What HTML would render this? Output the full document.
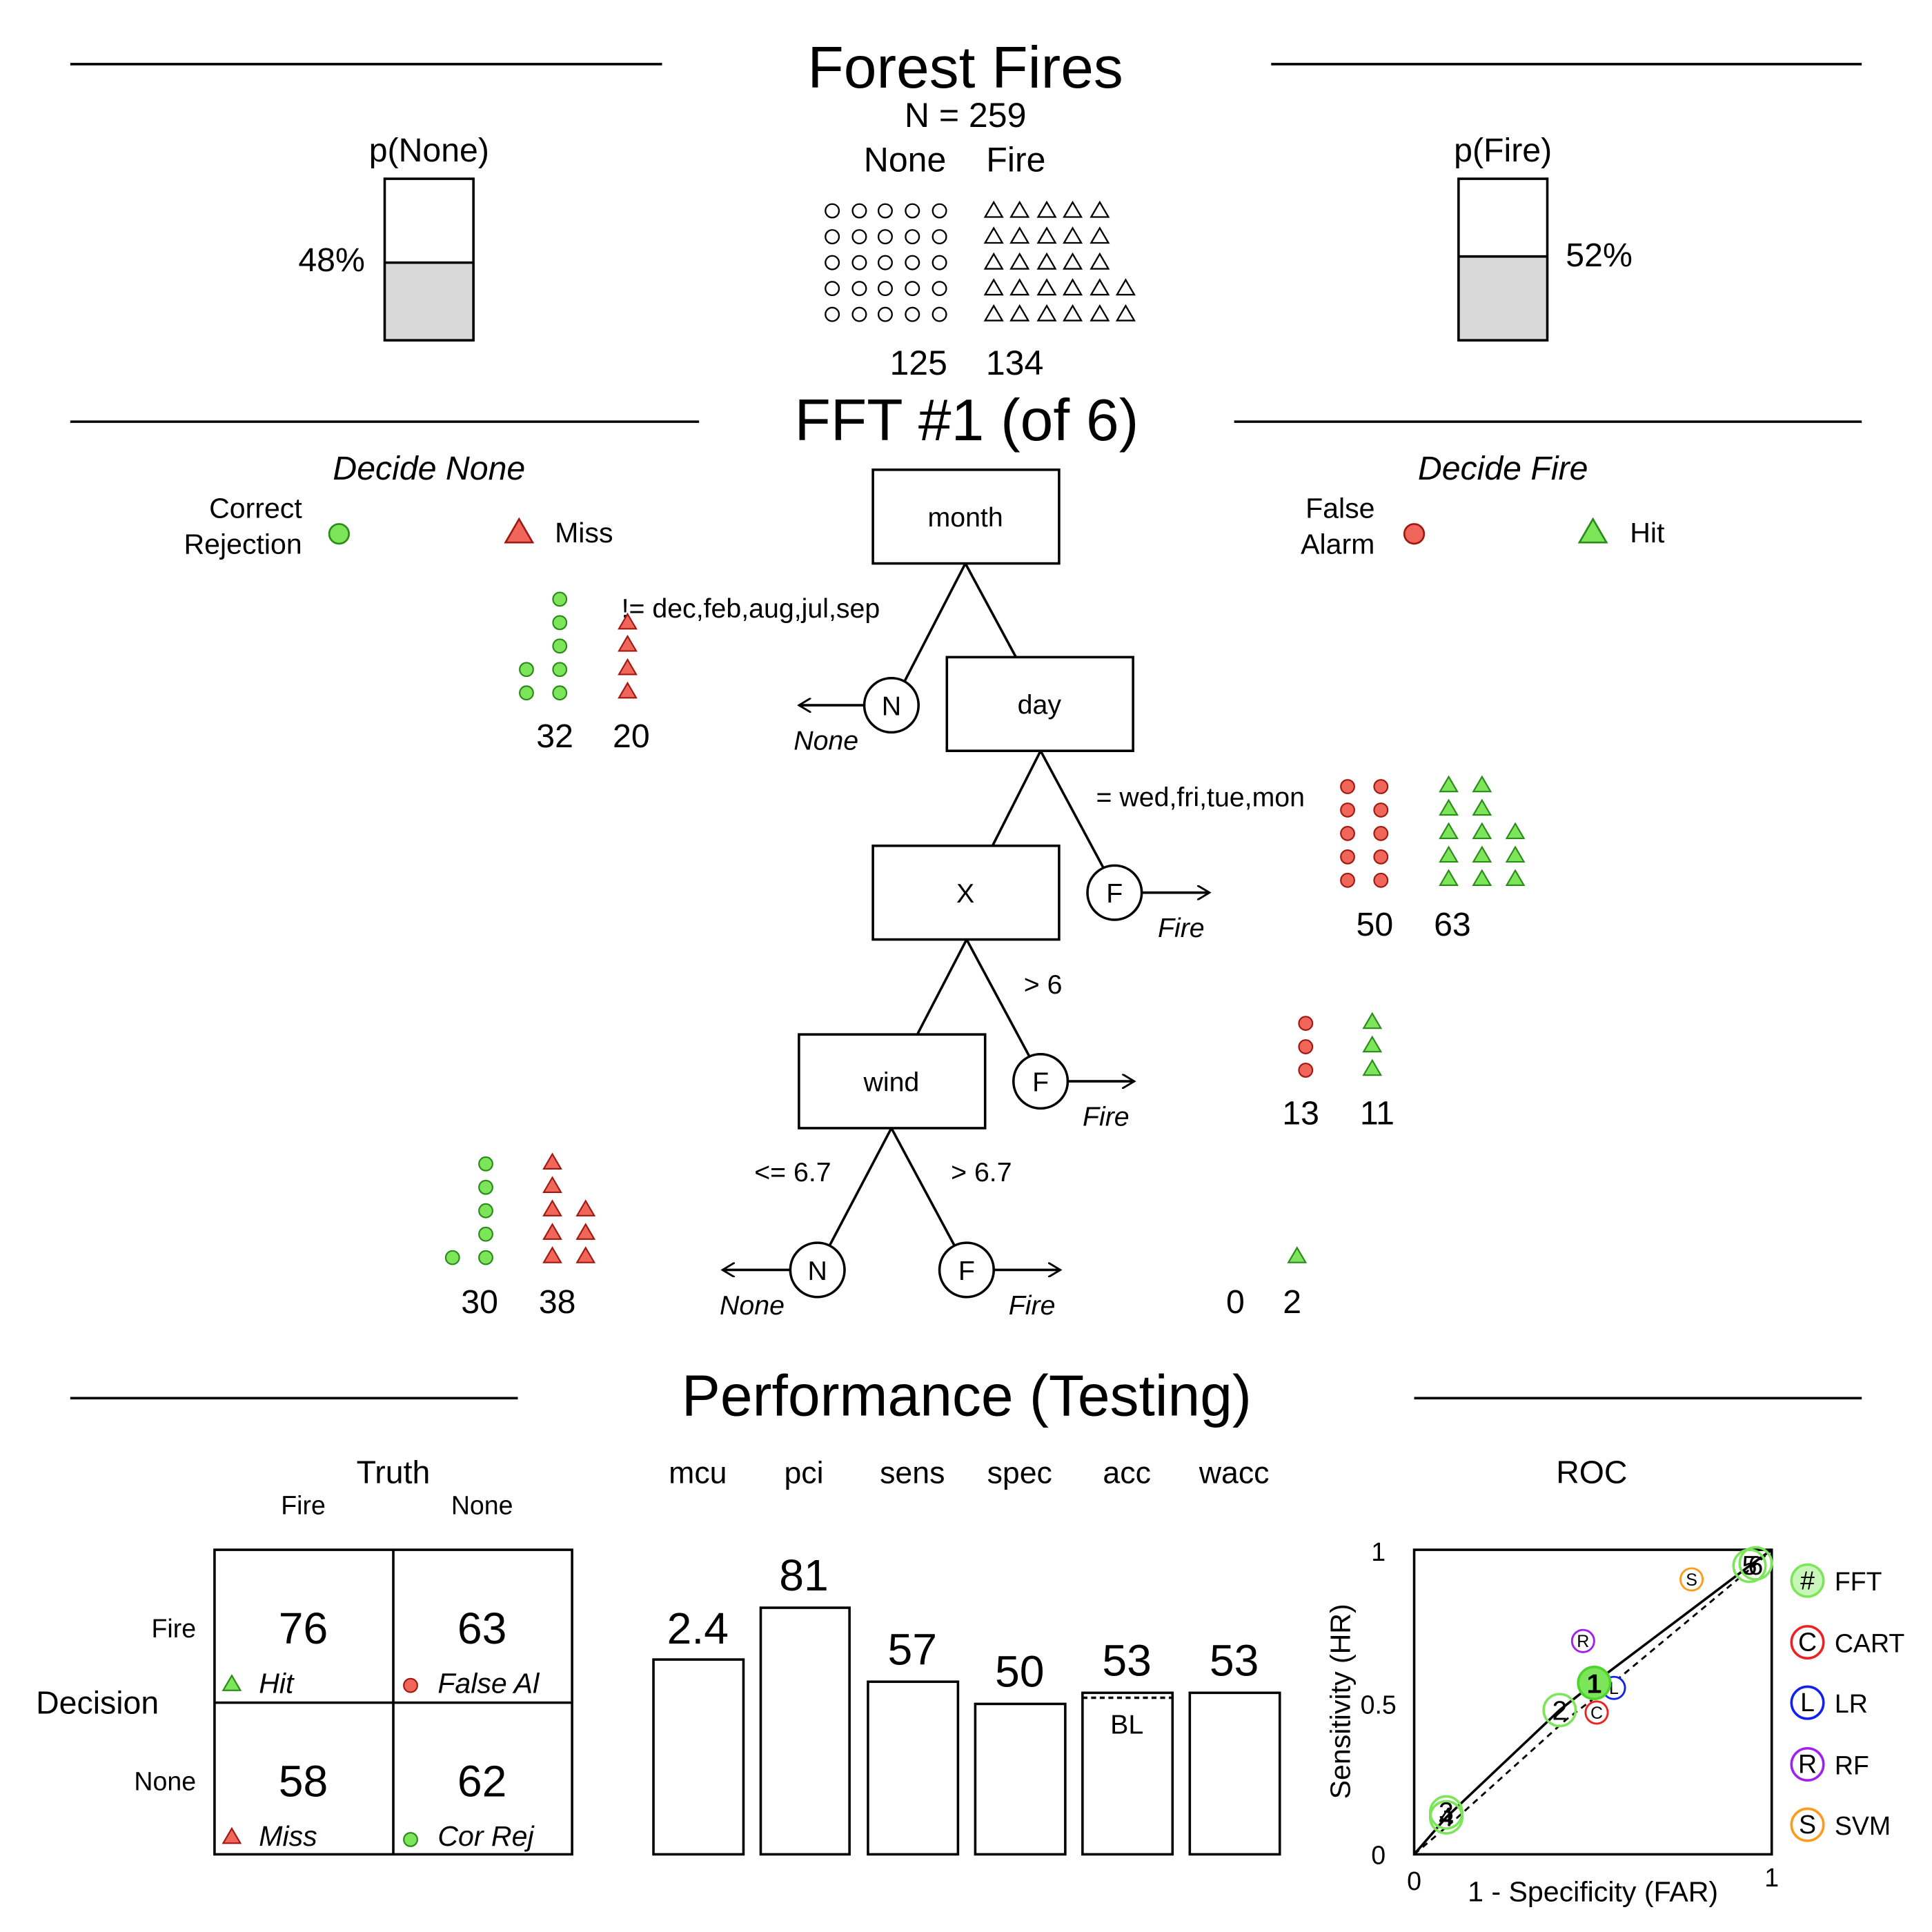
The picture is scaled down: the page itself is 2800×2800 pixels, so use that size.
<!DOCTYPE html>
<html><head><meta charset="utf-8"><style>html,body{margin:0;padding:0;background:#fff}svg{display:block}</style></head>
<body>
<svg width="2800" height="2800" viewBox="0 0 1567 1567" xmlns="http://www.w3.org/2000/svg" font-family="Liberation Sans, sans-serif">
<defs>
<g id="tw"><polygon points="0,-7 7,5 -7,5" fill="none" stroke="#000" stroke-width="1.3"/></g>
<g id="tg"><polygon points="0,-7 7,5 -7,5" fill="#7CE55A" stroke="#2a8a1a" stroke-width="1.2"/></g>
<g id="tr"><polygon points="0,-7 7,5 -7,5" fill="#F0665A" stroke="#a01810" stroke-width="1.2"/></g>
<g id="cw"><circle r="5.5" fill="none" stroke="#000" stroke-width="1.3"/></g>
<g id="cg"><circle r="5.5" fill="#7CE55A" stroke="#2a8a1a" stroke-width="1.2"/></g>
<g id="cr"><circle r="5.5" fill="#F0665A" stroke="#a01810" stroke-width="1.2"/></g>
<marker id="ah" markerWidth="12" markerHeight="12" refX="10" refY="6" orient="auto" markerUnits="userSpaceOnUse"><path d="M0,0 L10,6 L0,12" fill="none" stroke="#000" stroke-width="1.6"/></marker>
</defs>
<g stroke="#000" stroke-width="2">
<line x1="57" y1="52" x2="537" y2="52"/><line x1="1031" y1="52" x2="1510" y2="52"/>
<line x1="57" y1="342" x2="567" y2="342"/><line x1="1001" y1="342" x2="1510" y2="342"/>
<line x1="57" y1="1134" x2="420" y2="1134"/><line x1="1147" y1="1134" x2="1510" y2="1134"/>
</g>
<g text-anchor="middle">
<text x="783" y="71" font-size="48">Forest Fires</text>
<text x="783" y="103" font-size="28">N = 259</text>
<text x="734" y="139" font-size="28">None</text><text x="824" y="139" font-size="28">Fire</text>
<text x="348" y="131" font-size="27">p(None)</text><text x="1219" y="131" font-size="27">p(Fire)</text>
<text x="745" y="304" font-size="28">125</text><text x="823" y="304" font-size="28">134</text>
<text x="784" y="357" font-size="48">FFT #1 (of 6)</text>
<text x="348" y="389" font-size="27" font-style="italic">Decide None</text>
<text x="1219" y="389" font-size="27" font-style="italic">Decide Fire</text>
<text x="784" y="1148" font-size="47">Performance (Testing)</text>
</g>
<rect x="312" y="213" width="72" height="63" fill="#d9d9d9"/>
<rect x="312" y="145" width="72" height="131" fill="none" stroke="#000" stroke-width="2"/>
<line x1="312" y1="213" x2="384" y2="213" stroke="#000" stroke-width="2"/>
<rect x="1183" y="208" width="72" height="68" fill="#d9d9d9"/>
<rect x="1183" y="145" width="72" height="131" fill="none" stroke="#000" stroke-width="2"/>
<line x1="1183" y1="208" x2="1255" y2="208" stroke="#000" stroke-width="2"/>
<text x="296" y="220" font-size="27" text-anchor="end">48%</text>
<text x="1270" y="216" font-size="27">52%</text>
<g>
<use href="#cw" x="675" y="171"/><use href="#cw" x="697" y="171"/><use href="#cw" x="718" y="171"/><use href="#cw" x="740" y="171"/><use href="#cw" x="762" y="171"/>
<use href="#cw" x="675" y="192"/><use href="#cw" x="697" y="192"/><use href="#cw" x="718" y="192"/><use href="#cw" x="740" y="192"/><use href="#cw" x="762" y="192"/>
<use href="#cw" x="675" y="213"/><use href="#cw" x="697" y="213"/><use href="#cw" x="718" y="213"/><use href="#cw" x="740" y="213"/><use href="#cw" x="762" y="213"/>
<use href="#cw" x="675" y="234"/><use href="#cw" x="697" y="234"/><use href="#cw" x="718" y="234"/><use href="#cw" x="740" y="234"/><use href="#cw" x="762" y="234"/>
<use href="#cw" x="675" y="255"/><use href="#cw" x="697" y="255"/><use href="#cw" x="718" y="255"/><use href="#cw" x="740" y="255"/><use href="#cw" x="762" y="255"/>
<use href="#tw" x="806" y="171"/><use href="#tw" x="827" y="171"/><use href="#tw" x="849" y="171"/><use href="#tw" x="870" y="171"/><use href="#tw" x="892" y="171"/>
<use href="#tw" x="806" y="192"/><use href="#tw" x="827" y="192"/><use href="#tw" x="849" y="192"/><use href="#tw" x="870" y="192"/><use href="#tw" x="892" y="192"/>
<use href="#tw" x="806" y="213"/><use href="#tw" x="827" y="213"/><use href="#tw" x="849" y="213"/><use href="#tw" x="870" y="213"/><use href="#tw" x="892" y="213"/>
<use href="#tw" x="806" y="234"/><use href="#tw" x="827" y="234"/><use href="#tw" x="849" y="234"/><use href="#tw" x="870" y="234"/><use href="#tw" x="892" y="234"/><use href="#tw" x="913" y="234"/>
<use href="#tw" x="806" y="255"/><use href="#tw" x="827" y="255"/><use href="#tw" x="849" y="255"/><use href="#tw" x="870" y="255"/><use href="#tw" x="892" y="255"/><use href="#tw" x="913" y="255"/>
</g>
<g font-size="23">
<text x="245" y="420" text-anchor="end">Correct</text><text x="245" y="449" text-anchor="end">Rejection</text>
<circle cx="275" cy="433" r="8" fill="#7CE55A" stroke="#2a8a1a" stroke-width="1.5"/>
<polygon points="421,421 432,440 410,440" fill="#F0665A" stroke="#a01810" stroke-width="1.5"/>
<text x="450" y="440">Miss</text>
<text x="1087" y="420" text-anchor="middle">False</text><text x="1085" y="449" text-anchor="middle">Alarm</text>
<circle cx="1147" cy="433" r="8" fill="#F0665A" stroke="#a01810" stroke-width="1.5"/>
<polygon points="1292,421 1303,440 1281,440" fill="#7CE55A" stroke="#2a8a1a" stroke-width="1.5"/>
<text x="1322" y="440">Hit</text>
</g>
<g stroke="#000" stroke-width="2" fill="none">
<rect x="708" y="381" width="151" height="76" fill="#fff"/>
<rect x="768" y="533" width="151" height="76" fill="#fff"/>
<rect x="708" y="686" width="151" height="76" fill="#fff"/>
<rect x="648" y="839" width="151" height="76" fill="#fff"/>
<line x1="783" y1="457" x2="734" y2="552"/><line x1="783" y1="457" x2="824" y2="533"/>
<line x1="844" y1="609" x2="805" y2="686"/><line x1="844" y1="609" x2="895" y2="704"/>
<line x1="784" y1="762" x2="744" y2="839"/><line x1="784" y1="762" x2="835" y2="857"/>
<line x1="723" y1="915" x2="673" y2="1010"/><line x1="723" y1="915" x2="774" y2="1010"/>
<circle cx="723" cy="572" r="22"/><circle cx="904" cy="724" r="22"/><circle cx="844" cy="877" r="22"/>
<circle cx="663" cy="1030" r="22"/><circle cx="784" cy="1030" r="22"/>
<line x1="701" y1="572" x2="648" y2="572" marker-end="url(#ah)"/>
<line x1="926" y1="724" x2="981" y2="724" marker-end="url(#ah)"/>
<line x1="866" y1="877" x2="920" y2="877" marker-end="url(#ah)"/>
<line x1="641" y1="1030" x2="586" y2="1030" marker-end="url(#ah)"/>
<line x1="806" y1="1030" x2="860" y2="1030" marker-end="url(#ah)"/>
</g>
<g font-size="22" text-anchor="middle">
<text x="783" y="427">month</text><text x="843" y="579">day</text><text x="783" y="732">X</text><text x="723" y="885">wind</text>
<text x="723" y="580">N</text><text x="904" y="732">F</text><text x="844" y="885">F</text><text x="663" y="1038">N</text><text x="784" y="1038">F</text>
<g font-style="italic"><text x="670" y="608">None</text><text x="958" y="760">Fire</text><text x="897" y="913">Fire</text><text x="610" y="1066">None</text><text x="837" y="1066">Fire</text></g>
<text x="643" y="958">&lt;= 6.7</text><text x="796" y="958">&gt; 6.7</text><text x="846" y="806">&gt; 6</text>
</g>
<g font-size="22"><text x="504" y="501">!= dec,feb,aug,jul,sep</text><text x="889" y="654">= wed,fri,tue,mon</text></g>
<g>
<use href="#tr" x="509" y="505"/>
<use href="#cg" x="427" y="543"/><use href="#cg" x="427" y="562"/>
<use href="#cg" x="454" y="486"/><use href="#cg" x="454" y="505"/><use href="#cg" x="454" y="524"/><use href="#cg" x="454" y="543"/><use href="#cg" x="454" y="562"/>
<use href="#tr" x="509" y="523"/><use href="#tr" x="509" y="542"/><use href="#tr" x="509" y="561"/>
<use href="#cr" x="1093" y="638"/><use href="#cr" x="1093" y="657"/><use href="#cr" x="1093" y="676"/><use href="#cr" x="1093" y="695"/><use href="#cr" x="1093" y="714"/>
<use href="#cr" x="1120" y="638"/><use href="#cr" x="1120" y="657"/><use href="#cr" x="1120" y="676"/><use href="#cr" x="1120" y="695"/><use href="#cr" x="1120" y="714"/>
<use href="#tg" x="1175" y="637"/><use href="#tg" x="1175" y="656"/><use href="#tg" x="1175" y="675"/><use href="#tg" x="1175" y="694"/><use href="#tg" x="1175" y="713"/>
<use href="#tg" x="1202" y="637"/><use href="#tg" x="1202" y="656"/><use href="#tg" x="1202" y="675"/><use href="#tg" x="1202" y="694"/><use href="#tg" x="1202" y="713"/>
<use href="#tg" x="1229" y="675"/><use href="#tg" x="1229" y="694"/><use href="#tg" x="1229" y="713"/>
<use href="#cr" x="1059" y="830"/><use href="#cr" x="1059" y="849"/><use href="#cr" x="1059" y="868"/>
<use href="#tg" x="1113" y="829"/><use href="#tg" x="1113" y="848"/><use href="#tg" x="1113" y="867"/>
<use href="#cg" x="394" y="944"/><use href="#cg" x="394" y="963"/><use href="#cg" x="394" y="982"/><use href="#cg" x="394" y="1001"/><use href="#cg" x="394" y="1020"/><use href="#cg" x="367" y="1020"/>
<use href="#tr" x="448" y="943"/><use href="#tr" x="448" y="962"/><use href="#tr" x="448" y="981"/><use href="#tr" x="448" y="1000"/><use href="#tr" x="448" y="1019"/>
<use href="#tr" x="475" y="981"/><use href="#tr" x="475" y="1000"/><use href="#tr" x="475" y="1019"/>
<use href="#tg" x="1052" y="1019"/>
</g>
<g font-size="27" text-anchor="middle">
<text x="450" y="606">32</text><text x="512" y="606">20</text>
<text x="1115" y="759">50</text><text x="1178" y="759">63</text>
<text x="1055" y="912">13</text><text x="1117" y="912">11</text>
<text x="389" y="1065">30</text><text x="452" y="1065">38</text>
<text x="1002" y="1065">0</text><text x="1048" y="1065">2</text>
</g>
<g text-anchor="middle">
<text x="319" y="1203" font-size="26">Truth</text>
<text x="246" y="1228" font-size="21">Fire</text><text x="391" y="1228" font-size="21">None</text>
<text x="79" y="1390" font-size="26">Decision</text>
<text x="246" y="1333" font-size="36">76</text><text x="391" y="1333" font-size="36">63</text>
<text x="246" y="1457" font-size="36">58</text><text x="391" y="1457" font-size="36">62</text>
</g>
<g font-size="21" text-anchor="end"><text x="159" y="1328">Fire</text><text x="159" y="1452">None</text></g>
<g stroke="#000" stroke-width="2" fill="none">
<rect x="174" y="1257" width="290" height="247"/><line x1="319" y1="1257" x2="319" y2="1504"/><line x1="174" y1="1381" x2="464" y2="1381"/>
</g>
<g font-size="23" font-style="italic">
<text x="210" y="1373">Hit</text><text x="355" y="1373">False Al</text><text x="210" y="1497">Miss</text><text x="355" y="1497">Cor Rej</text>
</g>
<polygon points="188,1359 195,1371 181,1371" fill="#7CE55A" stroke="#2a8a1a" stroke-width="1.2"/>
<circle cx="333" cy="1367" r="5.5" fill="#F0665A" stroke="#a01810" stroke-width="1.2"/>
<polygon points="188,1483 195,1495 181,1495" fill="#F0665A" stroke="#a01810" stroke-width="1.2"/>
<circle cx="333" cy="1492" r="5.5" fill="#7CE55A" stroke="#2a8a1a" stroke-width="1.2"/>
<g font-size="25" text-anchor="middle">
<text x="566" y="1203">mcu</text><text x="652" y="1203">pci</text><text x="740" y="1203">sens</text><text x="827" y="1203">spec</text><text x="914" y="1203">acc</text><text x="1001" y="1203">wacc</text>
</g>
<g stroke="#000" stroke-width="2" fill="none">
<rect x="530" y="1346" width="73" height="158"/><rect x="617" y="1304" width="72" height="200"/>
<rect x="704" y="1364" width="73" height="140"/><rect x="791" y="1382" width="73" height="122"/>
<rect x="878" y="1373" width="73" height="131"/><rect x="965" y="1373" width="73" height="131"/>
<line x1="878" y1="1377" x2="951" y2="1377" stroke-dasharray="4,3"/>
</g>
<g font-size="36" text-anchor="middle">
<text x="566" y="1333">2.4</text><text x="652" y="1290">81</text><text x="740" y="1350">57</text><text x="827" y="1368">50</text><text x="914" y="1359">53</text><text x="1001" y="1359">53</text>
</g>
<text x="914" y="1406" font-size="22" text-anchor="middle">BL</text>
<text x="1291" y="1203" font-size="26" text-anchor="middle">ROC</text>
<rect x="1147" y="1257" width="290" height="247" fill="none" stroke="#000" stroke-width="2"/>
<g font-size="21" text-anchor="middle">
<text x="1118" y="1266">1</text><text x="1118" y="1390">0.5</text><text x="1118" y="1512">0</text>
<text x="1147" y="1533">0</text><text x="1437" y="1530">1</text>
<text x="1292" y="1542" font-size="23">1 - Specificity (FAR)</text>
<text x="1087" y="1380" font-size="23" transform="rotate(-90 1087 1380)" dy="8">Sensitivity (HR)</text>
</g>
<polyline points="1147,1504 1173,1474 1265,1387 1293,1365 1419,1270 1437,1257" fill="none" stroke="#000" stroke-width="2"/>
<polyline points="1147,1504 1180,1476 1270,1395 1300,1372 1425,1268 1437,1257" fill="none" stroke="#000" stroke-width="1.6" stroke-dasharray="5,4"/>
<g font-size="14" text-anchor="middle" stroke-width="1.6">
<circle cx="1372" cy="1281" r="9" fill="#fff" stroke="#FF9A1A"/><text x="1372" y="1286">S</text>
<circle cx="1284" cy="1331" r="9" fill="#fff" stroke="#A020F0"/><text x="1284" y="1336">R</text>
<circle cx="1309" cy="1369" r="9" fill="#fff" stroke="#1020F0"/><text x="1309" y="1374">L</text>
<circle cx="1295" cy="1389" r="9" fill="#fff" stroke="#F02020"/><text x="1295" y="1394">C</text>
</g>
<g font-size="22" text-anchor="middle" stroke-width="2" fill="none">
<circle cx="1173" cy="1474" r="13" stroke="#7CE55A"/><circle cx="1173" cy="1470" r="13" stroke="#7CE55A"/>
<circle cx="1265" cy="1387" r="13" stroke="#7CE55A"/>
<circle cx="1419" cy="1270" r="13" stroke="#7CE55A"/><circle cx="1424" cy="1268" r="13" stroke="#7CE55A"/>
<circle cx="1293" cy="1365" r="13" fill="#7CE55A" stroke="#4CD52A"/>
</g>
<g font-size="22" text-anchor="middle">
<text x="1173" y="1481">4</text><text x="1173" y="1477">3</text><text x="1265" y="1395">2</text>
<text x="1419" y="1277">5</text><text x="1424" y="1277">6</text><text x="1293" y="1373" font-weight="bold">1</text>
</g>
<g font-size="21" stroke-width="2">
<circle cx="1466" cy="1282" r="13" fill="#c8f5b8" stroke="#7CE55A"/><text x="1466" y="1289" text-anchor="middle">#</text><text x="1488" y="1290">FFT</text>
<circle cx="1466" cy="1332" r="13" fill="#fff" stroke="#F02020"/><text x="1466" y="1339" text-anchor="middle">C</text><text x="1488" y="1340">CART</text>
<circle cx="1466" cy="1381" r="13" fill="#fff" stroke="#1020F0"/><text x="1466" y="1388" text-anchor="middle">L</text><text x="1488" y="1389">LR</text>
<circle cx="1466" cy="1431" r="13" fill="#fff" stroke="#A020F0"/><text x="1466" y="1438" text-anchor="middle">R</text><text x="1488" y="1439">RF</text>
<circle cx="1466" cy="1480" r="13" fill="#fff" stroke="#FF9A1A"/><text x="1466" y="1487" text-anchor="middle">S</text><text x="1488" y="1488">SVM</text>
</g>
</svg>
</body></html>
